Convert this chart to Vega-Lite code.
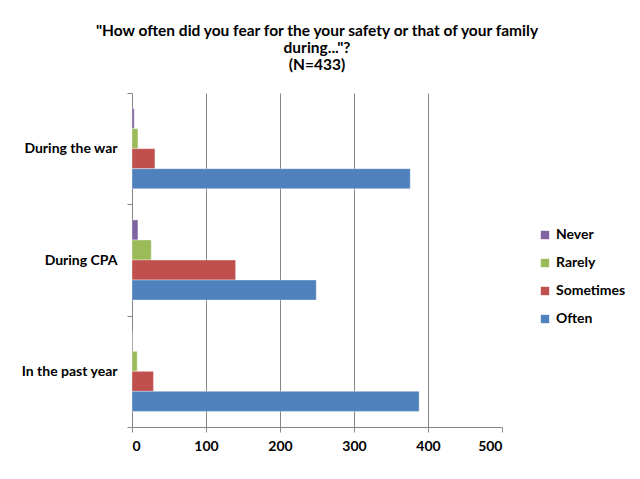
{
  "$schema": "https://vega.github.io/schema/vega-lite/v6.json",
  "width": 370,
  "height": 334,
  "autosize": "none",
  "padding": {"left": 132, "top": 93, "right": 138, "bottom": 52},
  "background": "white",
  "title": {
    "text": ["\"How often did you fear for the your safety or that of your family", "during...\"?", "(N=433)"],
    "font": "Lato",
    "fontSize": 15.5,
    "fontWeight": "bold",
    "color": "black",
    "anchor": "middle",
    "frame": "group",
    "lineHeight": 17,
    "offset": 13
  },
  "data": {
    "values": [
      {"period": "During the war", "answer": "Never", "count": 3},
      {"period": "During the war", "answer": "Rarely", "count": 8},
      {"period": "During the war", "answer": "Sometimes", "count": 31},
      {"period": "During the war", "answer": "Often", "count": 376},
      {"period": "During CPA", "answer": "Never", "count": 8},
      {"period": "During CPA", "answer": "Rarely", "count": 26},
      {"period": "During CPA", "answer": "Sometimes", "count": 140},
      {"period": "During CPA", "answer": "Often", "count": 249},
      {"period": "In the past year", "answer": "Never", "count": 0},
      {"period": "In the past year", "answer": "Rarely", "count": 7},
      {"period": "In the past year", "answer": "Sometimes", "count": 29},
      {"period": "In the past year", "answer": "Often", "count": 388}
    ]
  },
  "mark": {"type": "bar", "strokeWidth": 1, "strokeOpacity": 0.35, "stroke": "white"},
  "encoding": {
    "y": {
      "field": "period",
      "type": "nominal",
      "sort": ["During the war", "During CPA", "In the past year"],
      "scale": {"paddingInner": 0, "paddingOuter": 0},
      "axis": {
        "title": null,
        "tickBand": "extent",
        "domainColor": "#868686",
        "tickColor": "#868686",
        "tickSize": 5,
        "labelFont": "Lato",
        "labelFontSize": 14,
        "labelFontWeight": "bold",
        "labelColor": "black",
        "labelPadding": 10
      }
    },
    "yOffset": {
      "field": "answer",
      "type": "nominal",
      "sort": ["Never", "Rarely", "Sometimes", "Often"],
      "scale": {"paddingInner": 0, "paddingOuter": 0.78}
    },
    "x": {
      "field": "count",
      "type": "quantitative",
      "scale": {"domain": [0, 500], "nice": false},
      "axis": {
        "title": null,
        "values": [0, 100, 200, 300, 400, 500],
        "domainColor": "#868686",
        "tickColor": "#868686",
        "tickSize": 5,
        "gridColor": "#868686",
        "gridOpacity": {"condition": {"test": "datum.value == 0 || datum.value == 500", "value": 0}, "value": 1},
        "labelFont": "Lato",
        "labelFontSize": 14,
        "labelFontWeight": "bold",
        "labelColor": "black",
        "labelPadding": 7
      }
    },
    "color": {
      "field": "answer",
      "type": "nominal",
      "sort": ["Never", "Rarely", "Sometimes", "Often"],
      "scale": {
        "domain": ["Never", "Rarely", "Sometimes", "Often"],
        "range": ["#8064A2", "#9BBB59", "#C0504D", "#4F81BD"]
      },
      "legend": {
        "title": null,
        "orient": "none",
        "legendX": 406,
        "legendY": 135,
        "symbolType": "square",
        "symbolSize": 70,
        "symbolStrokeWidth": 0,
        "labelFont": "Lato",
        "labelFontSize": 14,
        "labelFontWeight": "bold",
        "labelColor": "black",
        "labelOffset": 4,
        "rowPadding": 14
      }
    }
  },
  "config": {"view": {"stroke": null}}
}
